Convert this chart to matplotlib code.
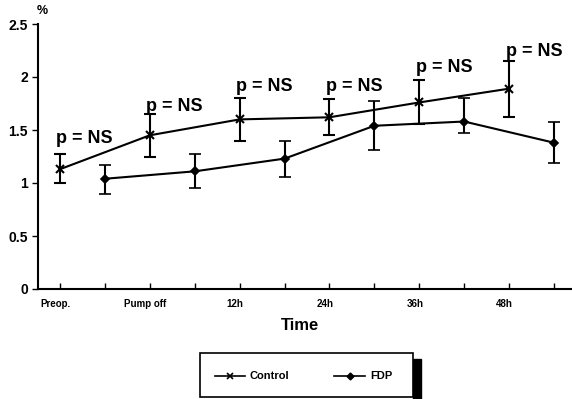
import matplotlib
matplotlib.use("Agg")
import matplotlib.pyplot as plt
from matplotlib.patches import Rectangle
from matplotlib.lines import Line2D

plt.rcParams['font.family'] = ['Liberation Sans', 'DejaVu Sans']

categories = ["Preop.", "Pump off", "12h", "24h", "36h", "48h"]
control_mean = [1.13, 1.45, 1.60, 1.62, 1.76, 1.89]
control_lo = [1.00, 1.25, 1.40, 1.45, 1.56, 1.62]
control_hi = [1.27, 1.65, 1.80, 1.79, 1.97, 2.15]
fdp_mean = [1.04, 1.11, 1.23, 1.54, 1.58, 1.38]
fdp_lo = [0.90, 0.95, 1.06, 1.31, 1.47, 1.19]
fdp_hi = [1.17, 1.27, 1.40, 1.77, 1.80, 1.58]
p_labels = ["p = NS"] * 6
p_label_y = [1.42, 1.72, 1.915, 1.915, 2.09, 2.245]

fig = plt.figure(figsize=(5.72, 3.99), dpi=100)
W, H = 572, 399
ax = fig.add_axes([37.5 / W, (H - 289) / H, (W - 37.5) / W, (289 - 24) / H])

n = len(categories)
xc = [2 * i + 1 for i in range(n)]
xf = [2 * i + 2 for i in range(n)]

c_err = [[m - l for m, l in zip(control_mean, control_lo)],
         [h - m for m, h in zip(control_mean, control_hi)]]
f_err = [[m - l for m, l in zip(fdp_mean, fdp_lo)],
         [h - m for m, h in zip(fdp_mean, fdp_hi)]]

ax.errorbar(xc, control_mean, yerr=c_err, color='black', marker='x', ms=6,
            mew=1.5, lw=1.5, elinewidth=1.5, capsize=4, capthick=1.5)
ax.errorbar(xf, fdp_mean, yerr=f_err, color='black', marker='D', ms=4,
            mew=1.2, lw=1.5, elinewidth=1.5, capsize=4, capthick=1.5)

for x, y, lab in zip(xc, p_label_y, p_labels):
    ax.text(x + 0.55, y, lab, ha='center', va='center', fontsize=13,
            fontweight='bold')

ax.set_xlim(0.5, 12.4)
ax.set_ylim(0, 2.5)
ax.set_yticks([0, 0.5, 1, 1.5, 2, 2.5])
ax.set_yticklabels(["0", "0.5", "1", "1.5", "2", "2.5"], fontsize=10, fontweight='bold')
ax.set_xticks(list(range(1, 2 * n + 1)))
ax.set_xticklabels([])
ax.tick_params(axis='x', direction='in', length=4, width=1)
ax.tick_params(axis='y', direction='out', length=4, width=1, pad=3)
for x, lab in zip(xc, categories):
    ax.text(x - 0.1, -0.09, lab, ha='center', va='top', fontsize=7,
            fontweight='bold', transform=ax.transData)
ax.spines['top'].set_visible(False)
ax.spines['right'].set_visible(False)
ax.spines['left'].set_linewidth(1.5)
ax.spines['bottom'].set_linewidth(1.5)

fig.text(300 / W, 1 - 326 / H, "Time", ha='center', va='center', fontsize=12,
         fontweight='bold')
fig.text(42 / W, 1 - 11 / H, "%", ha='center', va='center', fontsize=9,
         fontweight='bold')

# legend box with shadow
fig.patches.append(Rectangle((413 / W, 1 - 399 / H), 8 / W, 40 / H,
                             transform=fig.transFigure, color='black', zorder=1))
fig.patches.append(Rectangle((200 / W, 1 - 397 / H), 213 / W, 44 / H,
                             transform=fig.transFigure, facecolor='white',
                             edgecolor='black', lw=1.2, zorder=2))
ly = 1 - 376 / H
fig.lines.append(Line2D([215 / W, 245 / W], [ly, ly], transform=fig.transFigure,
                        color='black', lw=1.2, zorder=3))
fig.lines.append(Line2D([230 / W], [ly], transform=fig.transFigure, color='black',
                        marker='x', ms=5, mew=1.2, zorder=3))
fig.text(250 / W, ly, "Control", ha='left', va='center', fontsize=8,
         fontweight='bold', zorder=3)
fig.lines.append(Line2D([334 / W, 365 / W], [ly, ly], transform=fig.transFigure,
                        color='black', lw=1.2, zorder=3))
fig.lines.append(Line2D([349.5 / W], [ly], transform=fig.transFigure, color='black',
                        marker='D', ms=3.5, zorder=3))
fig.text(370 / W, ly, "FDP", ha='left', va='center', fontsize=8,
         fontweight='bold', zorder=3)

fig.savefig("out.png", dpi=100)
